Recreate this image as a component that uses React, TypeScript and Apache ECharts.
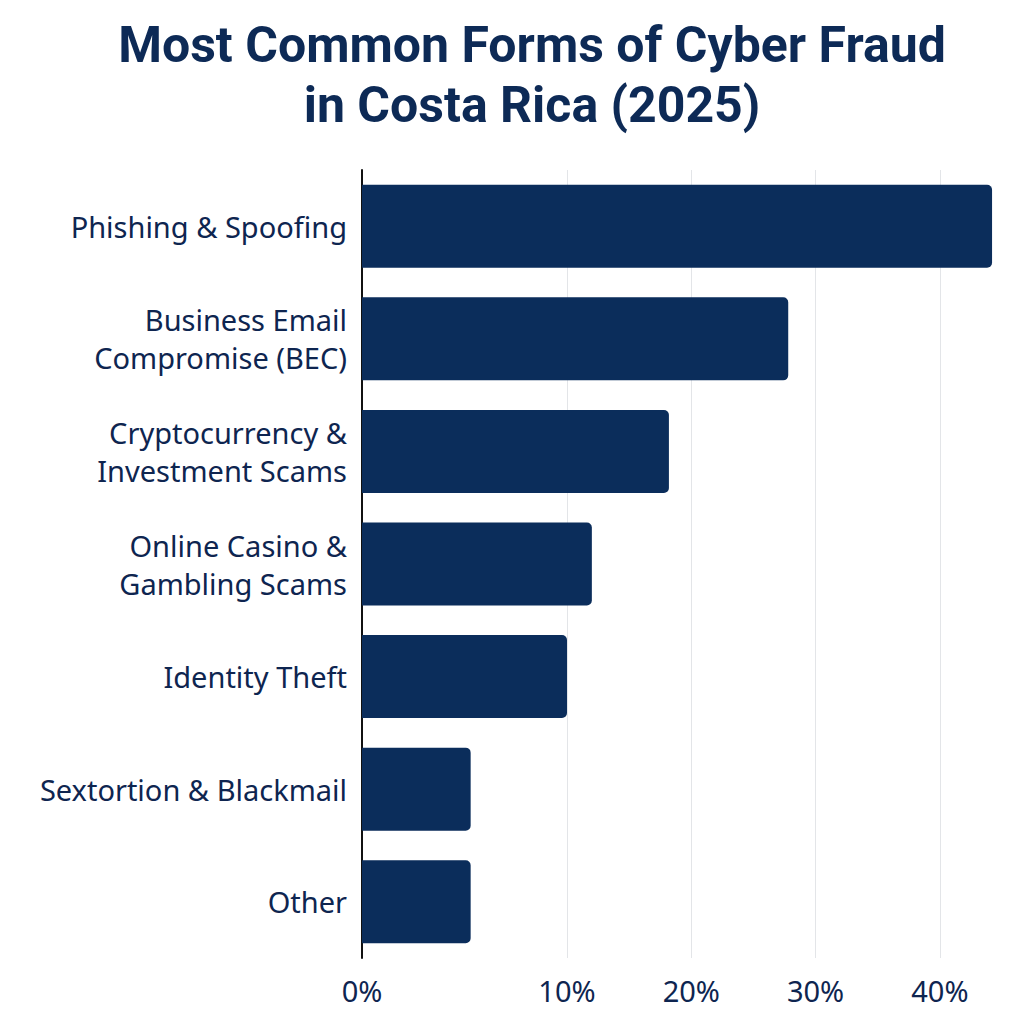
import React, { useEffect, useRef } from "react";
import * as echarts from "echarts";

const categories = [
  "Phishing & Spoofing",
  "Business Email\nCompromise (BEC)",
  "Cryptocurrency &\nInvestment Scams",
  "Online Casino &\nGambling Scams",
  "Identity Theft",
  "Sextortion & Blackmail",
  "Other",
];
const values = [44.2, 27.8, 18.2, 12, 10, 5.3, 5.3];
const lowTicks = [0];
const highTicks = [10, 20, 30, 40];
const BREAK = 10;

const BAR = "#0b2d5b";
const TEXT = "#0e2550";

export default function App() {
  const ref = useRef<HTMLDivElement>(null);
  useEffect(() => {
    if (!ref.current) return;
    const chart = echarts.init(ref.current, undefined, { renderer: "svg" });
    const top = 170;
    const bottom = 66;
    const option: any = {
      animation: false,
      backgroundColor: "#ffffff",
      title: {
        text: "Most Common Forms of Cyber Fraud\nin Costa Rica (2025)",
        left: 527,
        textAlign: "center",
        top: 10,
        textStyle: {
          fontFamily: "Roboto",
          fontWeight: "bold",
          fontSize: 50,
          lineHeight: 60,
          color: "#0d2a56",
        },
      },
      grid: [
        { left: 362, width: 205, top, bottom },
        { left: 567, right: 22, top, bottom },
      ],
      xAxis: [
        {
          gridIndex: 0,
          type: "value",
          min: 0,
          max: BREAK,
          interval: 10,
          axisLine: { show: false },
          axisTick: { show: false },
          splitLine: { show: false },
          axisLabel: {
            margin: 18,
            fontFamily: "Noto Sans",
            fontSize: 29,
            color: TEXT,
            formatter: (v: number) => (lowTicks.includes(v) ? v + "%" : ""),
          },
        },
        {
          gridIndex: 1,
          type: "value",
          min: BREAK,
          max: 45,
          interval: 10,
          startValue: BREAK,
          axisLine: { show: false },
          axisTick: { show: false },
          splitLine: {
            show: true,
            showMinLine: true,
            showMaxLine: false,
            lineStyle: { color: "#e3e5e8", width: 1 },
          },
          axisLabel: {
            margin: 18,
            fontFamily: "Noto Sans",
            fontSize: 29,
            color: TEXT,
            showMaxLabel: false,
            formatter: (v: number) => (highTicks.includes(v) ? v + "%" : ""),
          },
        },
      ],
      yAxis: [
        {
          gridIndex: 0,
          type: "category",
          inverse: true,
          data: categories,
          axisLine: { show: true, lineStyle: { color: "#111111", width: 2 } },
          axisTick: { show: false },
          axisLabel: {
            margin: 15,
            fontFamily: "Noto Sans",
            fontSize: 29,
            lineHeight: 38,
            color: TEXT,
            align: "right",
          },
        },
        {
          gridIndex: 1,
          type: "category",
          inverse: true,
          data: categories,
          show: false,
        },
      ],
      series: [
        {
          type: "bar",
          xAxisIndex: 0,
          yAxisIndex: 0,
          barWidth: 83,
          data: values.map((v) => ({
            value: Math.min(v, BREAK),
            itemStyle: {
              color: BAR,
              borderRadius: v > BREAK ? 0 : [0, 5, 5, 0],
            },
          })),
        },
        {
          type: "bar",
          xAxisIndex: 1,
          yAxisIndex: 1,
          barWidth: 83,
          clip: true,
          data: values.map((v) => (v > BREAK ? v : "-")),
          itemStyle: { color: BAR, borderRadius: [0, 5, 5, 0] },
        },
      ],
    };
    chart.setOption(option);
    return () => chart.dispose();
  }, []);
  return (
    <div
      ref={ref}
      style={{ position: "fixed", left: 0, top: 0, width: 1024, height: 1024 }}
    />
  );
}
